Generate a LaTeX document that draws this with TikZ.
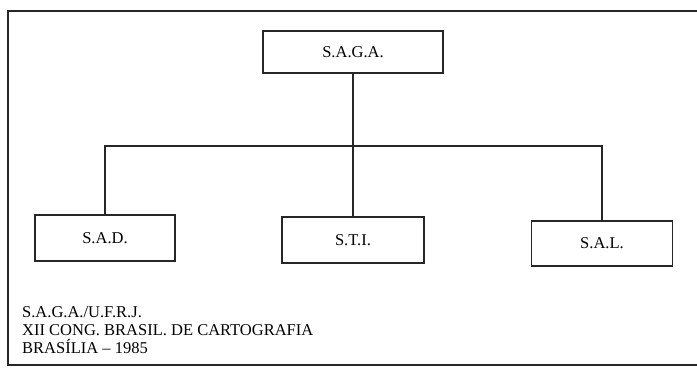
\documentclass[tikz,border=0pt]{standalone}
\usepackage{fontspec}
\setmainfont{Liberation Serif}
\begin{document}
\begin{tikzpicture}[x=1pt,y=-1pt,
  unit/.style={draw=black!85, line width=1.1pt, inner sep=0pt, font=\fontsize{16.5}{18}\selectfont},
  link/.style={draw=black!85, line width=1.1pt},
  frame/.style={draw=black!85, line width=1.6pt}]
\useasboundingbox (0,0) rectangle (697,370);
\draw[frame] (697,11) -- (8,11) -- (8,365) -- (697,365);
\node[unit, minimum width=180pt, minimum height=42pt] (saga) at (353,52) {S.A.G.A.};
\node[unit, minimum width=140pt, minimum height=46pt] (sad) at (105,238) {S.A.D.};
\node[unit, minimum width=142pt, minimum height=46pt] (sti) at (353,240) {S.T.I.};
\node[unit, minimum width=141pt, minimum height=45pt] (sal) at (602,243.5) {S.A.L.};
\coordinate (bus) at (353,146);
\draw[link] (saga.south) -- (bus);
\draw[link] (sad.north) |- (bus) -| (sal.north);
\draw[link] (sti.north) -- (sti.north |- bus);
\node[anchor=base west, inner sep=0pt, align=left, font=\fontsize{16.5}{18}\selectfont] (src) at (22,353)
  {S.A.G.A./U.F.R.J.\\XII CONG. BRASIL. DE CARTOGRAFIA\\BRASÍLIA -- 1985};
\end{tikzpicture}
\end{document}
